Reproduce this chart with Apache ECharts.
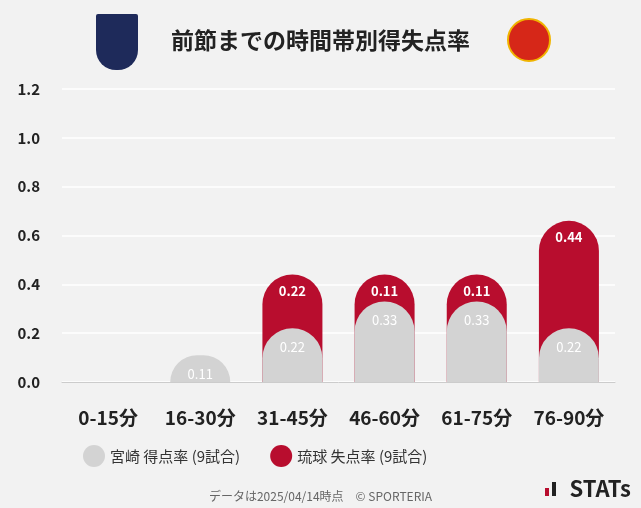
<!DOCTYPE html>
<html><head><meta charset="utf-8">
<script src="https://cdn.jsdelivr.net/npm/echarts@6/dist/echarts.min.js"></script>
<style>html,body{margin:0;background:#f2f2f2}#c{width:641px;height:508px}</style>
</head><body><div id="c"></div>
<script>
// 時間帯
const categories = ['0-15分', '16-30分', '31-45分', '46-60分', '61-75分', '76-90分'];
const scored = [0, 0.11, 0.22, 0.33, 0.33, 0.22];   // 宮崎 得点率
const conceded = [0, 0, 0.22, 0.11, 0.11, 0.44];    // 琉球 失点率
const yTicks = [0, 0.2, 0.4, 0.6, 0.8, 1.0, 1.2];

const font = '"Noto Sans CJK JP", "Noto Sans", sans-serif';
// red bar sits behind the gray one, drawn to the total height
const redTotal = conceded.map((v, i) => v > 0 ? +(v + scored[i]).toFixed(2) : 0);

const chart = echarts.init(document.getElementById('c'));
chart.setOption({
  backgroundColor: '#f2f2f2',
  textStyle: { fontFamily: font },
  title: {
    text: '前節までの時間帯別得失点率', left: 'center', top: 24,
    textStyle: { fontSize: 23, fontWeight: 'bold', color: '#222', fontFamily: font }
  },
  legend: {
    bottom: 36, left: 78, itemGap: 30, icon: 'circle', itemWidth: 22, itemHeight: 22,
    textStyle: { fontSize: 15, color: '#333', fontFamily: font },
    data: [
      { name: '宮崎 得点率 (9試合)', itemStyle: { color: '#d3d3d3' } },
      { name: '琉球 失点率 (9試合)', itemStyle: { color: '#b80d2e' } }
    ]
  },
  grid: { left: 62, right: 26, top: 89, bottom: 126 },
  xAxis: {
    type: 'category', data: categories,
    axisLine: { lineStyle: { color: '#ccc' } }, axisTick: { show: false },
    axisLabel: { fontSize: 19, fontWeight: 'bold', color: '#222', margin: 26 }
  },
  yAxis: {
    type: 'value', min: yTicks[0], max: yTicks[yTicks.length - 1], interval: 0.2,
    splitLine: { lineStyle: { color: '#fff', width: 1.5 } },
    axisLabel: { fontSize: 15, fontWeight: 'bold', color: '#222', margin: 22, formatter: v => v.toFixed(1) }
  },
  series: [
    {
      name: '琉球 失点率 (9試合)', type: 'bar', data: redTotal, barWidth: 60,
      itemStyle: { color: '#b80d2e', borderRadius: [30, 30, 0, 0] },
      label: {
        show: true, position: 'insideTop', distance: 10, color: '#fff', fontWeight: 'bold', fontSize: 13,
        formatter: p => conceded[p.dataIndex] > 0 ? conceded[p.dataIndex].toFixed(2) : ''
      }
    },
    {
      name: '宮崎 得点率 (9試合)', type: 'bar', data: scored, barWidth: 60, barGap: '-100%',
      itemStyle: { color: '#d3d3d3', borderRadius: [30, 30, 0, 0] },
      label: {
        show: true, position: 'insideTop', distance: 12, color: '#fff', fontSize: 13,
        formatter: p => p.value > 0 ? p.value.toFixed(2) : ''
      }
    }
  ],
  graphic: [
    { type: 'text', left: 'center', bottom: 6, style: { text: 'データは2025/04/14時点　© SPORTERIA', fontSize: 12, fill: '#666', fontFamily: font } },
    { type: 'text', right: 10, bottom: 8, style: { text: 'STATs', fontSize: 22, fontWeight: 'bold', fill: '#222', fontFamily: font } },
    { type: 'rect', right: 92, bottom: 12, shape: { width: 4, height: 8 }, style: { fill: '#b80d2e' } },
    { type: 'rect', right: 85, bottom: 12, shape: { width: 4, height: 14 }, style: { fill: '#222' } },
    { type: 'rect', left: 96, top: 14, shape: { width: 42, height: 56, r: [2, 2, 20, 20] }, style: { fill: '#1e2a5a' } },
    { type: 'circle', left: 507, top: 18, shape: { r: 21 }, style: { fill: '#d62718', stroke: '#f0b400', lineWidth: 2 } }
  ]
});
</script></body></html>
